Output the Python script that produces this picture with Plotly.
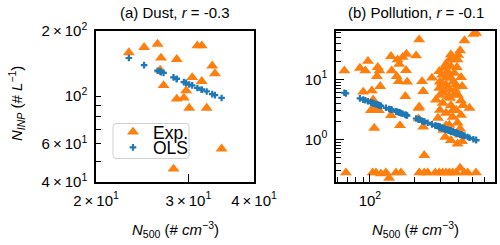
import math
import plotly.graph_objects as go

ORANGE = "#ff7f0e"
BLUE = "#1f77b4"

# ---- (a) Dust ----
dust_n500 = [23.1, 24.7, 26.2, 26.6, 28.5, 31.2, 31.8, 26.5, 26.9, 30.5,
             31.8, 33.3, 33.7, 29.7, 28.5, 29.4, 30.1, 32.5, 34.7, 28.1]
dust_ninp = [159, 168, 174, 150, 148, 171, 171, 132, 112, 122,
             117, 138, 127, 106, 97, 98, 88, 88, 57, 46]
dust_ols = [150, 139, 131, 129, 120, 109, 107, 130, 128, 112,
            107, 102, 101, 115, 120, 116, 113, 105, 98, 122]

# ---- (b) Pollution ----
pol_n500 = [67, 85.5, 97, 93, 113, 116, 111.6, 117.5, 90, 105,
            139, 154, 167, 177, 158, 140.5, 176, 152, 157, 179,
            206, 216, 226, 230, 174, 216, 264, 296, 355, 410,
            368, 439, 505, 527, 329, 355, 390, 309, 329, 355,
            416, 423, 296, 315, 343, 375, 281, 312, 355, 416,
            430, 475, 329, 309, 347, 384, 338, 375, 394, 347,
            105, 115, 101.6, 139, 160, 107, 214, 214, 230, 234,
            329, 365, 394, 410, 325, 355, 394, 423, 365,
            68.7, 104.3, 109.9, 118.8, 128.5, 150.3, 162.5, 216.5, 234, 247,
            278, 296, 312, 329, 346, 365, 385, 438, 462, 526,
            135, 410,
            318, 339, 368, 299, 324, 379, 350, 299, 397, 329,
            299, 385, 416, 346, 315, 410, 290, 103, 398]
pol_ninp = [14.0, 15.5, 20.2, 14.0, 16.0, 14.0, 11.3, 7.7, 6.2, 4.6,
            24.4, 21.4, 23.5, 26.5, 18.1, 14.0, 14.2, 11.3, 9.3, 9.1,
            24.9, 46.0, 9.3, 6.35, 5.25, 3.5, 10.6, 13.7, 25.9, 30.3,
            21.4, 44.5, 57.1, 59.4, 18.1, 16.6, 16.0, 12.0, 10.6, 10.6,
            10.9, 7.7, 7.2, 5.95, 5.25, 5.6, 4.6, 4.06, 3.7, 4.43,
            3.7, 3.35, 8.2, 8.7, 6.8, 8.2, 13.7, 12.8, 21.4, 21.4,
            3.26, 3.07, 3.07, 2.53, 1.72, 1.55, 3.35, 2.22, 1.62, 0.545,
            1.72, 2.37, 1.9, 1.51, 1.1, 0.97, 0.85, 0.93, 3.07,
            0.28, 0.28, 0.28, 0.27, 0.28, 0.28, 0.28, 0.28, 0.28, 0.28,
            0.28, 0.28, 0.28, 0.28, 0.28, 0.28, 0.28, 0.28, 0.28, 0.28,
            0.228, 0.335,
            15.5, 11.9, 9.1, 9.1, 6.7, 6.7, 4.9, 5.5, 5.5, 2.76,
            3.1, 3.1, 2.56, 1.74, 1.44, 1.19, 2.28, 6.5, 25.6]
pol_ols = [6.02, 4.84, 4.34, 4.50, 3.80, 3.71, 3.83, 3.66, 4.63, 4.03,
           3.16, 2.88, 2.69, 2.54, 2.82, 3.13, 2.57, 2.92, 2.84, 2.51,
           2.24, 2.14, 2.06, 2.02, 2.59, 2.14, 1.79, 1.62, 1.38, 1.22,
           1.34, 1.15, 1.01, 0.98, 1.48, 1.38, 1.28, 1.56, 1.48, 1.38,
           1.20, 1.19, 1.62, 1.53, 1.42, 1.32, 1.70, 1.55, 1.38, 1.20,
           1.16, 1.07, 1.48, 1.56, 1.41, 1.29, 1.44, 1.32, 1.26, 1.41,
           4.03, 3.74, 4.16, 3.16, 2.79, 3.98, 2.15, 2.15, 2.02, 1.99,
           1.48, 1.35, 1.26, 1.22, 1.49, 1.38, 1.26, 1.19, 1.35,
           5.88, 4.07, 3.88, 3.62, 3.38, 2.95, 2.75, 2.14, 1.99, 1.90,
           1.71, 1.62, 1.55, 1.48, 1.41, 1.35, 1.29, 1.15, 1.10, 0.98,
           3.23, 1.22,
           1.52, 1.44, 1.34, 1.61, 1.50, 1.31, 1.40, 1.61, 1.25, 1.48,
           1.61, 1.29, 1.20, 1.42, 1.54, 1.22, 1.67, 4.10, 1.25]

# axis limits and ticks
dust_xlim = [20, 40]
dust_ylim = [40, 200]
pol_xlim = [58.8, 708]
pol_ylim = [0.196, 64.3]

dust_xticks = [20, 30, 40]
dust_xticktext = ["2\u2009×\u200910<sup>1</sup>", "3\u2009×\u200910<sup>1</sup>", "4\u2009×\u200910<sup>1</sup>"]
dust_yticks = [40, 60, 100, 200]
dust_yticktext = ["4\u2009×\u200910<sup>1</sup>", "6\u2009×\u200910<sup>1</sup>", "10<sup>2</sup>", "2\u2009×\u200910<sup>2</sup>"]
dust_yminor = [50, 70, 80, 90]
dust_ymajor_long = [100]

pol_xticks = [100]
pol_xticktext = ["10<sup>2</sup>"]
pol_xminor = [60, 70, 80, 90, 200, 300, 400, 500, 600, 700]
pol_yticks = [1, 10]
pol_yticktext = ["10<sup>0</sup>", "10<sup>1</sup>"]
pol_yminor = [0.2, 0.3, 0.4, 0.5, 0.6, 0.7, 0.8, 0.9,
              2, 3, 4, 5, 6, 7, 8, 9, 20, 30, 40, 50, 60]

W, H = 500, 245
FONT = "Liberation Sans, Arial, sans-serif"


def fx(p):
    return p / W


def fy(p):
    return 1 - p / H


def lg(v):
    return [math.log10(v[0]), math.log10(v[1])]


L_DOM = [fx(96), fx(254)]
R_DOM = [fx(336), fx(495)]
Y_DOM = [fy(182), fy(31)]

tri = dict(symbol="triangle-up", size=10.5, color=ORANGE)
plus = dict(symbol="cross", size=5.5, color=BLUE)

fig = go.Figure()
fig.add_trace(go.Scatter(x=dust_n500, y=dust_ninp, mode="markers", marker=tri,
                         name="Exp.", xaxis="x", yaxis="y", legend="legend"))
fig.add_trace(go.Scatter(x=dust_n500, y=dust_ols, mode="markers", marker=plus,
                         name="OLS", xaxis="x", yaxis="y", legend="legend2"))
fig.add_trace(go.Scatter(x=pol_n500, y=pol_ninp, mode="markers", marker=tri,
                         showlegend=False, xaxis="x2", yaxis="y2"))
fig.add_trace(go.Scatter(x=pol_n500, y=pol_ols, mode="markers", marker=plus,
                         showlegend=False, xaxis="x2", yaxis="y2"))

tickfont = dict(family=FONT, size=15, color="black")
base = dict(type="log", showline=True, linecolor="black", linewidth=1.5,
            mirror=True, showgrid=False, zeroline=False, ticks="inside",
            tickwidth=1.1, tickcolor="black", tickfont=tickfont,
            tickmode="array", automargin=False)


def minor(vals):
    return dict(tickmode="array", tickvals=vals, ticks="inside", ticklen=5,
                tickwidth=1.1, tickcolor="black", showgrid=False)


leg_font = dict(family=FONT, size=17.5, color="black")
fig.update_layout(
    width=W, height=H, margin=dict(l=0, r=0, t=0, b=0, autoexpand=False),
    paper_bgcolor="white", plot_bgcolor="white",
    xaxis=dict(base, domain=L_DOM, anchor="y", range=lg(dust_xlim),
               tickvals=dust_xticks, ticktext=dust_xticktext, ticklen=8,
               ticklabelstandoff=4),
    yaxis=dict(base, domain=Y_DOM, anchor="x", range=lg(dust_ylim),
               tickvals=dust_yticks, ticktext=dust_yticktext, ticklen=5,
               ticklabelstandoff=4),
    yaxis3=dict(type="log", overlaying="y", anchor="x", side="left",
                range=lg(dust_ylim), tickmode="array", tickvals=dust_ymajor_long,
                ticks="inside", ticklen=8.5, tickwidth=1.1, tickcolor="black",
                showticklabels=False, showline=False, showgrid=False,
                zeroline=False, automargin=False),
    xaxis2=dict(base, domain=R_DOM, anchor="y2", range=lg(pol_xlim),
                tickvals=pol_xticks, ticktext=pol_xticktext, ticklen=8,
                minor=minor(pol_xminor), ticklabelstandoff=4),
    yaxis2=dict(base, domain=Y_DOM, anchor="x2", range=lg(pol_ylim),
                tickvals=pol_yticks, ticktext=pol_yticktext, ticklen=8,
                minor=minor(pol_yminor), ticklabelstandoff=4),
    legend=dict(x=fx(113), y=fy(114), xanchor="left", yanchor="top",
                bgcolor="rgba(0,0,0,0)", borderwidth=0, itemwidth=30,
                font=leg_font),
    legend2=dict(x=fx(113), y=fy(129.5), xanchor="left", yanchor="top",
                 bgcolor="rgba(0,0,0,0)", borderwidth=0, itemwidth=30,
                 font=leg_font),
)
fig.layout.yaxis.minor = minor(dust_yminor)

# legend frame (rounded rectangle, paper coordinates)
x0, x1, y0, y1, r = 113, 189, 123.5, 158.5, 3
rx, ry = r / W, r / H
X0, X1, Y0, Y1 = fx(x0), fx(x1), fy(y0), fy(y1)
path = (f"M {X0+rx},{Y0} L {X1-rx},{Y0} Q {X1},{Y0} {X1},{Y0-ry} "
        f"L {X1},{Y1+ry} Q {X1},{Y1} {X1-rx},{Y1} L {X0+rx},{Y1} "
        f"Q {X0},{Y1} {X0},{Y1+ry} L {X0},{Y0-ry} Q {X0},{Y0} {X0+rx},{Y0} Z")
fig.add_shape(type="path", path=path, xref="paper", yref="paper",
              fillcolor="rgba(255,255,255,0.8)", line=dict(color="#d0d0d0", width=1),
              layer="above")

lab = dict(family=FONT, size=15, color="black")
ann = [
    dict(text="(a) Dust, <i>r</i> = -0.3", x=fx(175), y=fy(13)),
    dict(text="(b) Pollution, <i>r</i> = -0.1", x=fx(415.5), y=fy(13)),
    dict(text="<i>N</i><sub>500</sub> (# <i>cm</i><sup>−3</sup>)", x=fx(175), y=fy(229)),
    dict(text="<i>N</i><sub>500</sub> (# <i>cm</i><sup>−3</sup>)", x=fx(415.5), y=fy(229)),
    dict(text="<i>N</i><sub><i>INP</i></sub> (# <i>L</i><sup>−1</sup>)", x=fx(16), y=fy(104),
         textangle=-90),
]
for a in ann:
    fig.add_annotation(xref="paper", yref="paper", showarrow=False,
                       xanchor="center", yanchor="middle", font=lab, **a)

fig.write_html("out.html", config={"displayModeBar": False},
               post_script="document.body.style.margin='0px';document.body.style.overflow='hidden';")
